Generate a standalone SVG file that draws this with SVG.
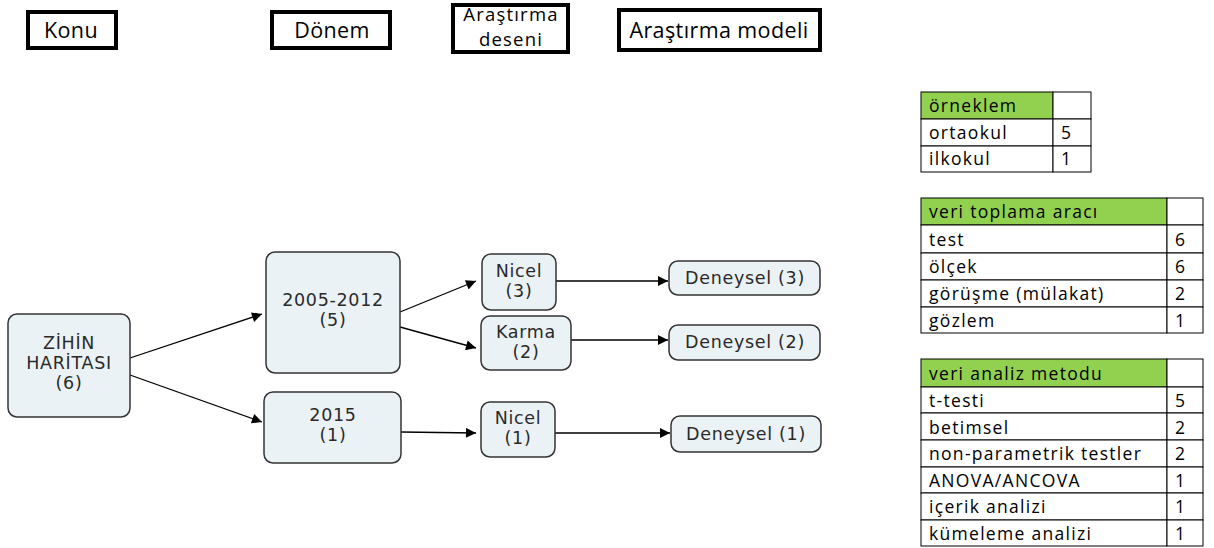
<svg xmlns="http://www.w3.org/2000/svg" width="1214" height="548" viewBox="0 0 1214 548">
<defs>
<marker id="arr" viewBox="0 0 10 10" refX="10" refY="5" markerWidth="14" markerHeight="10" markerUnits="userSpaceOnUse" orient="auto"><path d="M0,0 L10,5 L0,10 z" fill="#000"/></marker>
<style>
.hdr{fill:#fff;stroke:#000;stroke-width:4}
.ht{font-family:"Open Sans","Liberation Sans",sans-serif;font-size:21.5px;fill:#000;text-anchor:middle;letter-spacing:0.4px}
.hs{font-size:18.5px;letter-spacing:1.2px}
.nd{fill:#EAF2F6;stroke:#333;stroke-width:1.5}
.nt{font-family:"DejaVu Sans","Liberation Sans",sans-serif;font-size:17.5px;fill:#2a2a2a;text-anchor:middle;letter-spacing:0.7px}
.cn{stroke:#000;stroke-width:1.3;fill:none;marker-end:url(#arr)}
.cell{fill:#fff;stroke:#000;stroke-width:1}
.gh{fill:#92D050;stroke:#000;stroke-width:1}
.tt{font-family:"Open Sans","Liberation Sans",sans-serif;font-size:17.5px;fill:#000;letter-spacing:1.3px}
</style>
</defs>

<g id="header-konu"><rect class="hdr" x="28" y="12" width="88" height="36"/><text class="ht" x="71" y="38">Konu</text></g>
<g id="header-donem"><rect class="hdr" x="272" y="12" width="118" height="36"/><text class="ht" x="332" y="38">Dönem</text></g>
<g id="header-desen"><rect class="hdr" x="453" y="5" width="115" height="47"/><text class="ht hs" x="511" y="21">Araştırma</text><text class="ht hs" x="511" y="46">deseni</text></g>
<g id="header-model"><rect class="hdr" x="619" y="10" width="201" height="40"/><text class="ht" x="719" y="38">Araştırma modeli</text></g>

<g id="connectors">
<line class="cn" x1="130" y1="358" x2="262" y2="314"/>
<line class="cn" x1="130" y1="375" x2="262" y2="422"/>
<line class="cn" x1="400" y1="312" x2="476" y2="281"/>
<line class="cn" x1="400" y1="327" x2="476" y2="348"/>
<line class="cn" x1="401" y1="432" x2="476" y2="433"/>
<line class="cn" x1="556" y1="281" x2="668" y2="281"/>
<line class="cn" x1="571" y1="340" x2="668" y2="340"/>
<line class="cn" x1="555" y1="433" x2="670" y2="433"/>
</g>

<g id="node-zihin"><rect class="nd" x="8" y="314" width="122" height="103" rx="9"/><text class="nt" x="69" y="349">ZİHİN</text><text class="nt" x="69" y="369">HARİTASI</text><text class="nt" x="69" y="389">(6)</text></g>
<g id="node-2005"><rect class="nd" x="266" y="252" width="134" height="121" rx="9"/><text class="nt" x="333" y="306">2005-2012</text><text class="nt" x="333" y="326">(5)</text></g>
<g id="node-2015"><rect class="nd" x="264" y="392" width="137" height="71" rx="9"/><text class="nt" x="333" y="421">2015</text><text class="nt" x="333" y="441">(1)</text></g>
<g id="node-nicel3"><rect class="nd" x="482" y="254" width="74" height="56" rx="9"/><text class="nt" x="519" y="277">Nicel</text><text class="nt" x="519" y="297">(3)</text></g>
<g id="node-karma"><rect class="nd" x="481" y="316" width="90" height="54" rx="9"/><text class="nt" x="526" y="338">Karma</text><text class="nt" x="526" y="358">(2)</text></g>
<g id="node-nicel1"><rect class="nd" x="481" y="402" width="74" height="55" rx="9"/><text class="nt" x="518" y="424">Nicel</text><text class="nt" x="518" y="444">(1)</text></g>
<g id="node-deneysel3"><rect class="nd" x="669" y="261" width="151" height="34" rx="9"/><text class="nt" x="745" y="284">Deneysel (3)</text></g>
<g id="node-deneysel2"><rect class="nd" x="669" y="325" width="151" height="35" rx="9"/><text class="nt" x="745" y="348">Deneysel (2)</text></g>
<g id="node-deneysel1"><rect class="nd" x="671" y="416" width="150" height="36" rx="9"/><text class="nt" x="746" y="440">Deneysel (1)</text></g>

<g id="table-orneklem">
<rect class="gh" x="921" y="92" width="132" height="27"/><rect class="cell" x="1053" y="92" width="38" height="27"/>
<rect class="cell" x="921" y="119" width="132" height="27"/><rect class="cell" x="1053" y="119" width="38" height="27"/>
<rect class="cell" x="921" y="146" width="132" height="26"/><rect class="cell" x="1053" y="146" width="38" height="26"/>
<text class="tt" x="929" y="112">örneklem</text>
<text class="tt" x="929" y="139">ortaokul</text><text class="tt" x="1061" y="139">5</text>
<text class="tt" x="929" y="165">ilkokul</text><text class="tt" x="1061" y="165">1</text>
</g>

<g id="table-veri-toplama">
<rect class="gh" x="921" y="198" width="246" height="27"/><rect class="cell" x="1167" y="198" width="36" height="27"/>
<rect class="cell" x="921" y="225" width="246" height="28"/><rect class="cell" x="1167" y="225" width="36" height="28"/>
<rect class="cell" x="921" y="253" width="246" height="27"/><rect class="cell" x="1167" y="253" width="36" height="27"/>
<rect class="cell" x="921" y="280" width="246" height="27"/><rect class="cell" x="1167" y="280" width="36" height="27"/>
<rect class="cell" x="921" y="307" width="246" height="26"/><rect class="cell" x="1167" y="307" width="36" height="26"/>
<text class="tt" x="929" y="218">veri toplama aracı</text>
<text class="tt" x="929" y="246">test</text><text class="tt" x="1175" y="246">6</text>
<text class="tt" x="929" y="273">ölçek</text><text class="tt" x="1175" y="273">6</text>
<text class="tt" x="929" y="300">görüşme (mülakat)</text><text class="tt" x="1175" y="300">2</text>
<text class="tt" x="929" y="327">gözlem</text><text class="tt" x="1175" y="327">1</text>
</g>

<g id="table-veri-analiz">
<rect class="gh" x="921" y="359" width="246" height="28"/><rect class="cell" x="1167" y="359" width="36" height="28"/>
<rect class="cell" x="921" y="387" width="246" height="26"/><rect class="cell" x="1167" y="387" width="36" height="26"/>
<rect class="cell" x="921" y="413" width="246" height="27"/><rect class="cell" x="1167" y="413" width="36" height="27"/>
<rect class="cell" x="921" y="440" width="246" height="27"/><rect class="cell" x="1167" y="440" width="36" height="27"/>
<rect class="cell" x="921" y="467" width="246" height="26"/><rect class="cell" x="1167" y="467" width="36" height="26"/>
<rect class="cell" x="921" y="493" width="246" height="27"/><rect class="cell" x="1167" y="493" width="36" height="27"/>
<rect class="cell" x="921" y="520" width="246" height="26"/><rect class="cell" x="1167" y="520" width="36" height="26"/>
<text class="tt" x="929" y="380">veri analiz metodu</text>
<text class="tt" x="929" y="407">t-testi</text><text class="tt" x="1175" y="407">5</text>
<text class="tt" x="929" y="434">betimsel</text><text class="tt" x="1175" y="434">2</text>
<text class="tt" x="929" y="460">non-parametrik testler</text><text class="tt" x="1175" y="460">2</text>
<text class="tt" x="929" y="487">ANOVA/ANCOVA</text><text class="tt" x="1175" y="487">1</text>
<text class="tt" x="929" y="513">içerik analizi</text><text class="tt" x="1175" y="513">1</text>
<text class="tt" x="929" y="540">kümeleme analizi</text><text class="tt" x="1175" y="540">1</text>
</g>
</svg>
